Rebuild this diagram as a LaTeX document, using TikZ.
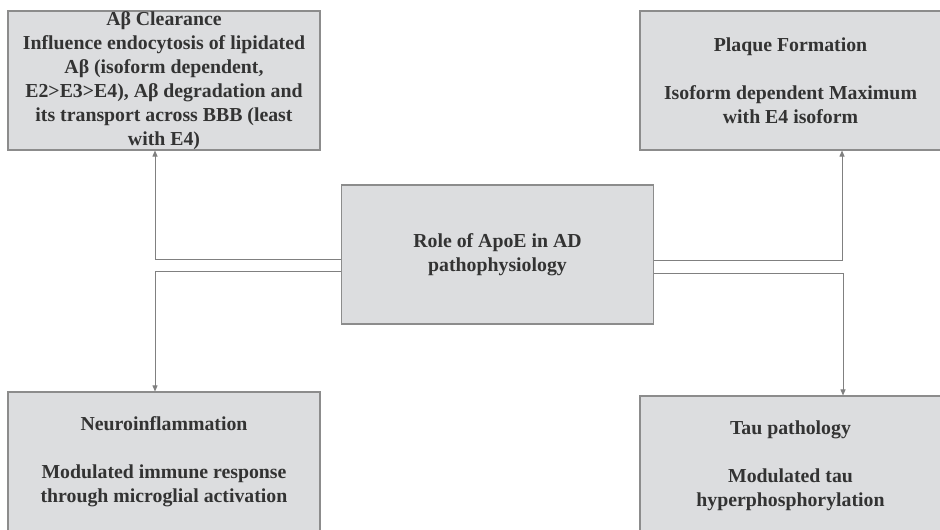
\documentclass[tikz,border=0pt]{standalone}
\usepackage{fontspec}
\setmainfont{Liberation Serif}
\usetikzlibrary{arrows.meta,positioning,calc}
\definecolor{BoxFill}{HTML}{DCDDDF}
\definecolor{BoxLine}{HTML}{8C8C8C}
\definecolor{LinkLine}{HTML}{808080}
\definecolor{TextDark}{HTML}{333333}

\begin{document}
\begin{tikzpicture}[x=1pt, y=1pt,
    font=\fontsize{19.8}{24}\selectfont\bfseries,
    topicbox/.style={draw=BoxLine, fill=BoxFill, line width=1.1pt, text=TextDark,
      align=center, inner sep=0pt, minimum height=139pt},
    link/.style={draw=LinkLine, line width=0.9pt, -{Triangle[length=6pt,width=5pt]}}]
  \useasboundingbox[fill=white] (0,0) rectangle (940,530);
  \node[topicbox, minimum width=312pt] (role) at (497.5,275.5) {Role of ApoE in AD\\pathophysiology};
  \node[topicbox, minimum width=312pt] (clear) at (164,449.5)
    {Aβ Clearance\\Influence endocytosis of lipidated\\Aβ (isoform dependent,\\E2>E3>E4), Aβ degradation and\\its transport across BBB (least\\with E4)};
  \node[topicbox, minimum width=301pt] (plaque) at (790.5,449.5)
    {Plaque Formation\\[24pt]Isoform dependent Maximum\\with E4 isoform};
  \node[topicbox, minimum width=312pt] (neuro) at (164,68.5)
    {Neuroinflammation\\[24pt]Modulated immune response\\through microglial activation};
  \node[topicbox, minimum width=301pt] (tau) at (790.5,64.5)
    {Tau pathology\\[24pt]Modulated tau\\hyperphosphorylation};
  % Verbindungen
  \draw[link] ([yshift=-4.5pt]role.west) -| ([xshift=-9pt]clear.south);
  \draw[link] ([yshift=-16.5pt]role.west) -| ([xshift=-9pt]neuro.north);
  \draw[link] ([yshift=-5.5pt]role.east) -| ([xshift=51.5pt]plaque.south);
  \draw[link] ([yshift=-18.5pt]role.east) -| ([xshift=52.5pt]tau.north);
\end{tikzpicture}
\end{document}
